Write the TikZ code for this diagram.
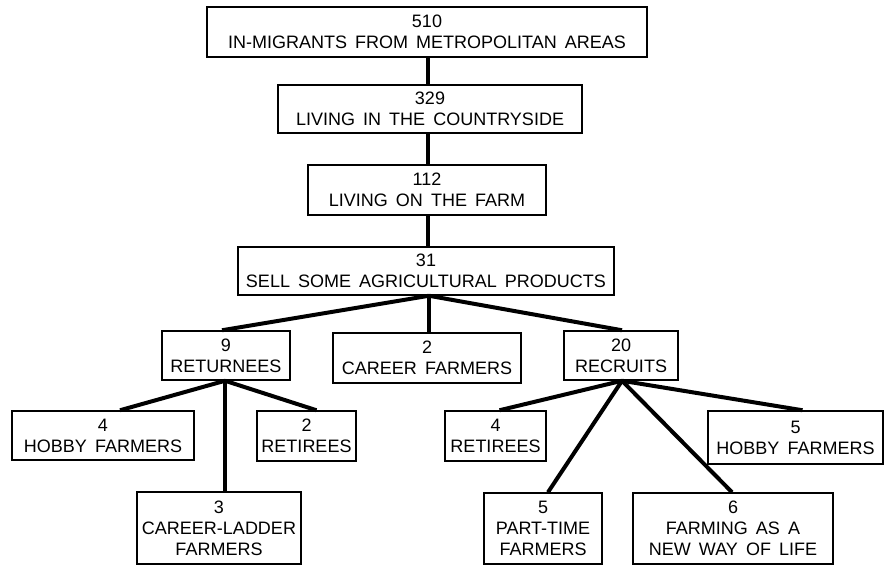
\documentclass[tikz,border=0pt]{standalone}
\usepackage{fontspec}
\setmainfont{Liberation Sans}
\usetikzlibrary{calc}
\newcommand\myWideSpace{\spaceskip=0.45em\relax}
\begin{document}
\begin{tikzpicture}[x=1pt,y=-1pt,
  box/.style={draw=black,line width=1.5pt,fill=white,align=center,inner sep=0pt,
    font=\fontsize{18}{21}\selectfont, execute at begin node=\myWideSpace},
  link/.style={draw=black,line width=4pt}]
\useasboundingbox (0,0) rectangle (890,566);
\node[box,minimum width=440pt,minimum height=50pt] (b1) at (427,32) {510\\IN-MIGRANTS FROM METROPOLITAN AREAS};
\node[box,minimum width=304pt,minimum height=48pt] (b2) at (430,109) {329\\LIVING IN THE COUNTRYSIDE};
\node[box,minimum width=238pt,minimum height=50pt] (b3) at (427,190) {112\\LIVING ON THE FARM};
\node[box,minimum width=376pt,minimum height=48pt] (b4) at (426,271) {31\\SELL SOME AGRICULTURAL PRODUCTS};
\node[box,minimum width=128pt,minimum height=49pt] (b5) at (226,355.5) {9\\RETURNEES};
\node[box,minimum width=188pt,minimum height=50pt] (b6) at (427,358) {2\\CAREER FARMERS};
\node[box,minimum width=114pt,minimum height=49pt] (b7) at (621,355.5) {20\\RECRUITS};
\node[box,minimum width=182pt,minimum height=49pt] (b8) at (103,435.5) {4\\HOBBY FARMERS};
\node[box,minimum width=99pt,minimum height=50pt] (b9) at (306.5,436) {2\\RETIREES};
\node[box,minimum width=164pt,minimum height=72pt] (b10) at (219,528) {3\\CAREER-LADDER\\FARMERS};
\node[box,minimum width=101pt,minimum height=50pt] (b11) at (495.5,436) {4\\RETIREES};
\node[box,minimum width=175pt,minimum height=53pt] (b12) at (795.5,437.5) {5\\HOBBY FARMERS};
\node[box,minimum width=118pt,minimum height=71pt] (b13) at (543,528.5) {5\\PART-TIME\\FARMERS};
\node[box,minimum width=200pt,minimum height=71pt] (b14) at (733,528.5) {6\\FARMING AS A\\NEW WAY OF LIFE};
% connectors
\draw[link] ($(b1.south)+(1,0)$) -- ($(b2.north)+(-2,0)$);
\draw[link] ($(b2.south)+(-2,0)$) -- ($(b3.north)+(1,0)$);
\draw[link] ($(b3.south)+(1,0)$) -- ($(b4.north)+(2,0)$);
\draw[link] ($(b4.south)+(3,0)$) -- ($(b5.north)+(-4,0)$);
\draw[link] ($(b4.south)+(3,0)$) -- ($(b6.north)+(2,0)$);
\draw[link] ($(b4.south)+(3,0)$) -- ($(b7.north)+(1,0)$);
\draw[link] ($(b5.south)+(-1,0)$) -- ($(b8.north)+(17,0)$);
\draw[link] ($(b5.south)+(-1,0)$) -- ($(b10.north)+(6,0)$);
\draw[link] ($(b5.south)+(-1,0)$) -- ($(b9.north)+(10,0)$);
\draw[link] ($(b7.south)+(1,0)$) -- ($(b11.north)+(4,0)$);
\draw[link] ($(b7.south)+(1,0)$) -- ($(b13.north)+(5,0)$);
\draw[link] ($(b7.south)+(1,0)$) -- ($(b14.north)+(-1,0)$);
\draw[link] ($(b7.south)+(1,0)$) -- ($(b12.north)+(7,0)$);
\end{tikzpicture}
\end{document}
